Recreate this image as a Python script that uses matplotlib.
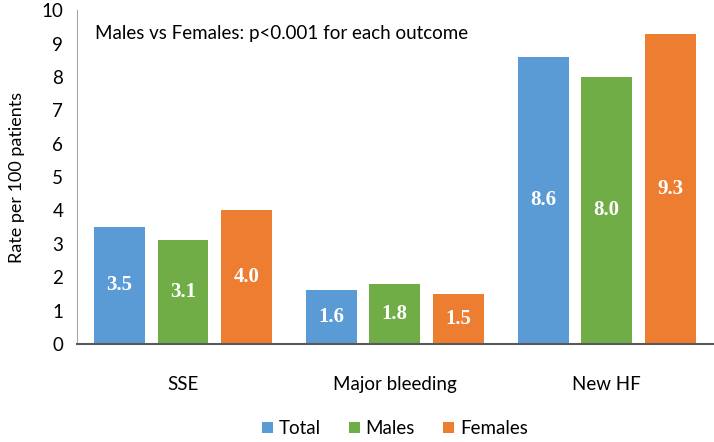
import matplotlib.pyplot as plt
import numpy as np

# values
categories = ['SSE', 'Major bleeding', 'New HF']
groups = ['Total', 'Males', 'Females']
total = [3.5, 1.6, 8.6]
males = [3.1, 1.8, 8.0]
females = [4.0, 1.5, 9.3]
colors = ['#5b9bd5', '#70ad47', '#ed7d31']

plt.rcParams['font.family'] = ['Lato', 'DejaVu Sans']

fig = plt.figure(figsize=(7.14, 4.42), dpi=100)
ax = fig.add_axes([0.108, 0.222, 0.89, 0.755])

x = np.arange(len(categories))
width = 0.24
step = 0.3
for i, (name, vals) in enumerate(zip(groups, [total, males, females])):
    pos = x + (i - 1) * step
    ax.bar(pos, vals, width, color=colors[i], label=name, zorder=2)
    for p, v in zip(pos, vals):
        ax.text(p, v / 2, f'{v:.1f}', ha='center', va='center', color='white',
                fontsize=15, fontweight='bold', family='Liberation Serif')

ax.set_xlim(-0.5, 2.5)
ax.set_ylim(0, 10)
ax.set_yticks(range(0, 11))
ax.set_xticks(x)
ax.set_xticklabels(categories)
ax.tick_params(axis='both', length=0, labelsize=13.5, colors='black')
ax.tick_params(axis='x', pad=23)
ax.tick_params(axis='y', pad=10)
ax.set_ylabel('Rate per 100 patients', fontsize=13, labelpad=12)

for s in ['top', 'right']:
    ax.spines[s].set_visible(False)
ax.spines['left'].set_color('#a6a6a6')
ax.spines['bottom'].set_color('#595959')
ax.spines['bottom'].set_linewidth(1.5)

ax.text(0.028, 0.93, 'Males vs Females: p<0.001 for each outcome',
        transform=ax.transAxes, fontsize=13.5, va='center')

ax.legend(loc='lower center', bbox_to_anchor=(0.5, -0.33), ncol=3, frameon=False,
          fontsize=13.5, handlelength=0.6, handleheight=0.6, handletextpad=0.3,
          columnspacing=1.5)

fig.savefig('out.png', dpi=100)
